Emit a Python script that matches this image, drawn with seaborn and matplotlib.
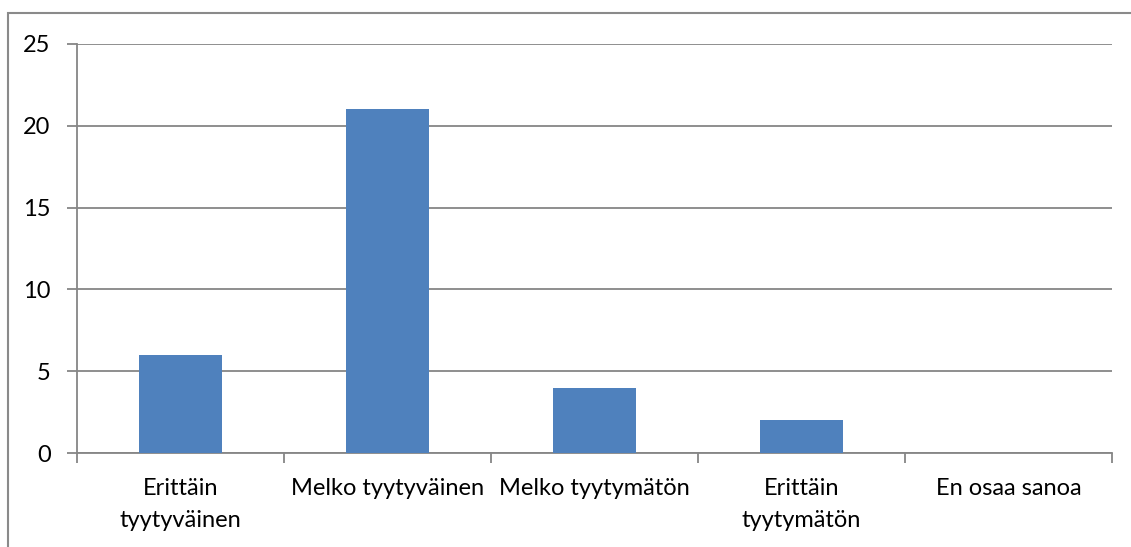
import matplotlib
matplotlib.use("Agg")
import matplotlib.pyplot as plt
import seaborn as sns
import pandas as pd
from matplotlib.patches import Rectangle

categories = ["Erittäin\ntyytyväinen", "Melko tyytyväinen", "Melko tyytymätön",
              "Erittäin\ntyytymätön", "En osaa sanoa"]
values = [6, 21, 4, 2, 0]
y_ticks = [0, 5, 10, 15, 20, 25]

sns.set_theme(style="white")
plt.rcParams['font.family'] = ['Lato', 'DejaVu Sans']

W, H = 1131, 547
fig = plt.figure(figsize=(W / 100, H / 100), dpi=100)
ax = fig.add_axes([77 / W, 1 - 453 / H, (1112 - 77) / W, (453 - 44) / H])

df = pd.DataFrame({"cat": categories, "val": values})
sns.barplot(data=df, x="cat", y="val", color="#4F81BD", saturation=1,
            width=0.4, ax=ax, zorder=3, linewidth=0)

grid_c = "#868686"
ax.set_ylim(0, 25)
ax.set_yticks(y_ticks)
ax.set_yticklabels([str(v) for v in y_ticks], fontsize=17, color="black")
ax.yaxis.grid(True, color=grid_c, linewidth=1.3, zorder=0)
ax.set_axisbelow(True)
ax.set_xlim(-0.5, len(categories) - 0.5)
ax.set_xticks(range(len(categories)))
ax.set_xticklabels(categories, fontsize=17, color="black", linespacing=1.65)
ax.tick_params(axis="x", length=0, pad=18)
ax.tick_params(axis="y", length=7, width=1.3, color=grid_c, pad=12, left=True)
# category boundary ticks
ax.set_xticks([i - 0.5 for i in range(len(categories) + 1)], minor=True)
ax.tick_params(axis="x", which="minor", length=7, width=1.3, color=grid_c, bottom=True)
ax.set_xlabel("")
ax.set_ylabel("")
for s in ["top", "right"]:
    ax.spines[s].set_visible(False)
for s in ["left", "bottom"]:
    ax.spines[s].set_color(grid_c)
    ax.spines[s].set_linewidth(1.3)

fig.patches.append(Rectangle((8 / W, -0.2), 1.5, 1.2 - 13 / H, transform=fig.transFigure,
                             fill=False, edgecolor="#8a8a8a", linewidth=1.5))

fig.savefig("out.png", dpi=100)
